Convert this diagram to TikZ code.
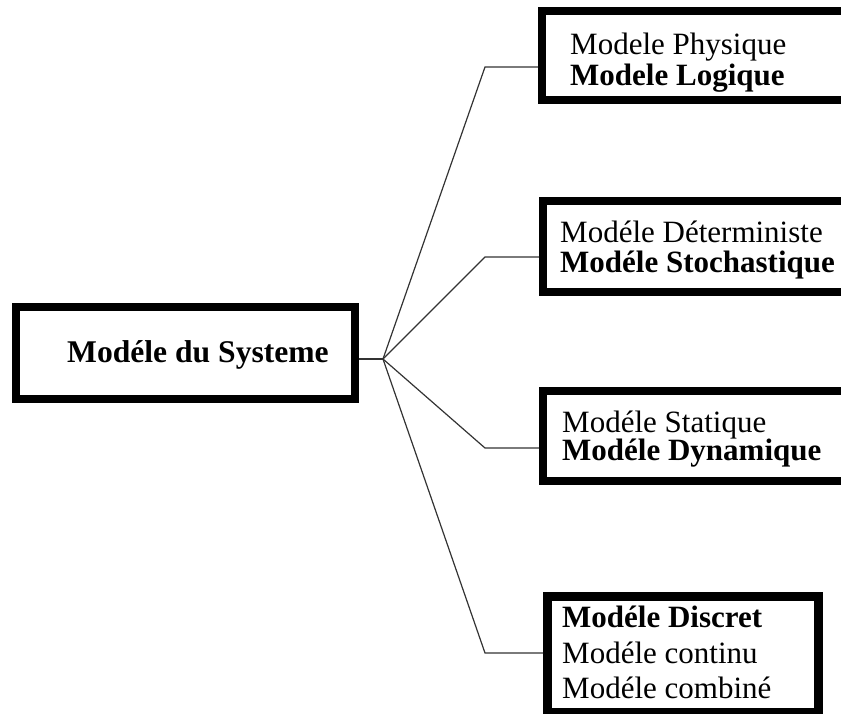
\documentclass[tikz,border=0pt]{standalone}
\usepackage{fontspec}
\setmainfont{Liberation Serif}
\begin{document}
\begin{tikzpicture}[x=1pt,y=-1pt,
  box/.style={draw=black,line width=8pt,inner sep=0pt,outer sep=4pt,anchor=north west,minimum width=314pt},
  lbl/.style={anchor=base west,inner sep=0pt,font=\fontsize{31}{31}\selectfont},
  conn/.style={draw=black!80,line width=1.2pt}]
\useasboundingbox (0,0) rectangle (841,713);
\clip (0,0) rectangle (841,713);
% boxes
\node[box,minimum width=339pt,minimum height=92pt] (main) at (12,303) {};
\node[box,minimum height=89pt] (b1) at (538,7) {};
\node[box,minimum height=91pt] (b2) at (539,197) {};
\node[box,minimum height=90pt] (b3) at (539,387) {};
\node[box,line width=9pt,outer sep=4.5pt,minimum width=271pt,minimum height=116pt] (b4) at (543,592) {};
% texts
\node[lbl,font=\fontsize{31.6}{31.6}\selectfont] (tmain) at (67,362) {\textbf{Modéle du Systeme}};
\node[lbl] (t11) at (570,54) {Modele Physique};
\node[lbl] (t12) at (570,85) {\textbf{Modele Logique}};
\node[lbl] (t21) at (560,242) {Modéle Déterministe};
\node[lbl] (t22) at (560,272) {\textbf{Modéle Stochastique}};
\node[lbl] (t31) at (562,432) {Modéle Statique};
\node[lbl] (t32) at (562,460) {\textbf{Modéle Dynamique}};
\node[lbl] (t41) at (562,627) {\textbf{Modéle Discret}};
\node[lbl] (t42) at (562,663) {Modéle continu};
\node[lbl] (t43) at (562,698) {Modéle combiné};
% connectors
\coordinate (hub) at (383,359);
\coordinate (k1) at (485,67);
\coordinate (k2) at (485,257);
\coordinate (k3) at (485,448);
\coordinate (k4) at (485,653);
\draw[conn] (main.east |- hub) -- (hub);
\draw[conn] (hub) -- (k1) -- (b1.west |- k1);
\draw[conn] (hub) -- (k2) -- (b2.west |- k2);
\draw[conn] (hub) -- (k3) -- (b3.west |- k3);
\draw[conn] (hub) -- (k4) -- (b4.west |- k4);
\end{tikzpicture}
\end{document}
